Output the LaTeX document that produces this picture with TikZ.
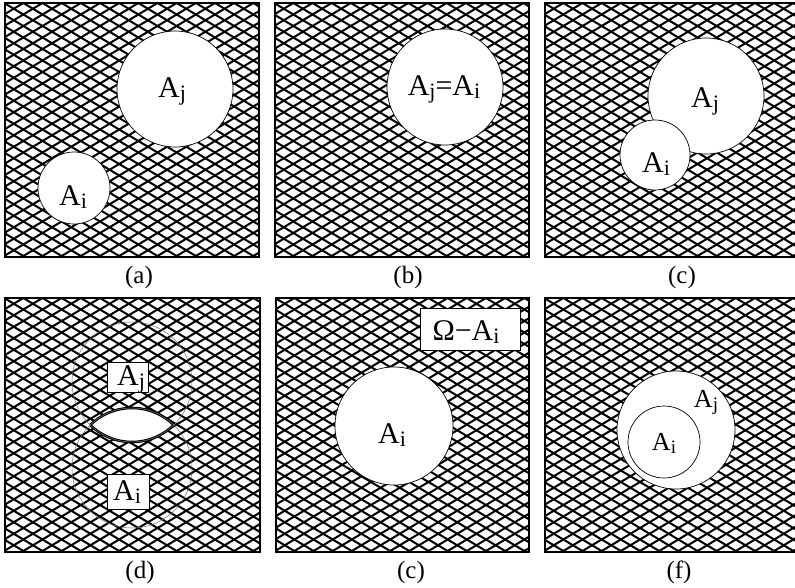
\documentclass[tikz,border=0pt]{standalone}
\usepackage{fontspec}
\setmainfont{Liberation Serif}
\newcommand{\lowsub}[1]{\raisebox{-0.12em}{\fontsize{22}{22}\selectfont #1}}
\newcommand{\lowsubs}[1]{\raisebox{-0.12em}{\fontsize{19}{19}\selectfont #1}}
\tikzset{
  hatch/.style={line width=2pt, black},
  frame/.style={draw=black, line width=2pt},
  hole/.style={fill=white, draw=black, line width=0.7pt},
  ghost/.style={draw=black!55, line width=0.5pt},
  lab/.style={font=\fontsize{30}{30}\selectfont, inner sep=0pt, anchor=base},
  smalllab/.style={font=\fontsize{26}{26}\selectfont, inner sep=0pt, anchor=base},
  caplab/.style={font=\fontsize{25}{25}\selectfont, anchor=base, inner sep=0pt},
  tagbox/.style={draw=black, fill=white, line width=0.8pt, inner sep=0pt, minimum height=30pt},
}
\newcommand{\hatchpanel}[4]{%
  \begin{scope}
    \clip (#1,#2) rectangle (#3,#4);
    \foreach \k in {-25,...,45} {
      \draw[hatch] (#1-20, #2+\k*11.5) -- ++(320, 192);
      \draw[hatch] (#1-20, #2+\k*11.5) -- ++(320, -192);
    }
  \end{scope}
  \draw[frame] (#1,#2) rectangle (#3,#4);
}
\begin{document}
\begin{tikzpicture}[x=1pt, y=-1pt]
  \useasboundingbox[fill=white] (0,0) rectangle (795,587);
  % ---------- (a)
  \hatchpanel{5}{3}{259}{257}
  \draw[hole] (175,89) circle (58);
  \draw[hole] (74,188) circle (36);
  \node[lab] (a-j) at (172,97) {A\lowsub{j}};
  \node[lab] (a-i) at (73,205) {A\lowsub{i}};
  \node[caplab] (cap-a) at (139,283) {(a)};
  % ---------- (b)
  \hatchpanel{275}{3}{529}{257}
  \draw[hole] (445,87) circle (58);
  \node[lab] (b-ji) at (444,95) {A\lowsub{j}=A\lowsub{i}};
  \node[caplab] (cap-b) at (408,283) {(b)};
  % ---------- (c)
  \hatchpanel{545}{3}{800}{257}
  \draw[hole] (706,96) circle (58);
  \draw[hole] (655,155) circle (35);
  \node[lab] (c-j) at (705,107) {A\lowsub{j}};
  \node[lab] (c-i) at (656,172) {A\lowsub{i}};
  \node[caplab] (cap-c) at (682,283) {(c)};
  % ---------- (d)
  \hatchpanel{5}{298}{260}{552}
  \begin{scope}
    \clip (132,382) circle (60);
    \draw[line width=2.6pt, fill=white] (132,468) circle (60);
  \end{scope}
  \begin{scope}
    \clip (132,468) circle (60);
    \draw[line width=2.6pt] (132,382) circle (60);
  \end{scope}
  \draw[ghost] (132,382) circle (60);
  \draw[ghost] (132,468) circle (60);
  \node[tagbox, minimum width=41pt] (d-j) at (128,377) {};
  \node[lab] (d-jt) at (131,385) {A\lowsub{j}};
  \node[tagbox, minimum width=42pt, minimum height=35pt] (d-i) at (128,492) {};
  \node[lab] (d-it) at (127,500) {A\lowsub{i}};
  \node[caplab] (cap-d) at (140,578) {(d)};
  % ---------- (e)
  \hatchpanel{276}{298}{529}{552}
  \draw[hole] (394,426) circle (59);
  \node[lab] (e-i) at (392,443) {A\lowsub{i}};
  \node[tagbox, minimum width=100pt, minimum height=42pt] (e-om) at (470,329) {};
  \node[lab] (e-omt) at (466,340) {Ω−A\lowsub{i}};
  \node[caplab] (cap-e) at (411,578) {(c)};
  % ---------- (f)
  \hatchpanel{545}{298}{800}{552}
  \draw[hole] (676,430) circle (59);
  \draw[hole] (664,442) circle (36);
  \node[smalllab] (f-j) at (706,407) {A\lowsubs{j}};
  \node[smalllab] (f-i) at (664,450) {A\lowsubs{i}};
  \node[caplab] (cap-f) at (679,578) {(f)};
\end{tikzpicture}
\end{document}
